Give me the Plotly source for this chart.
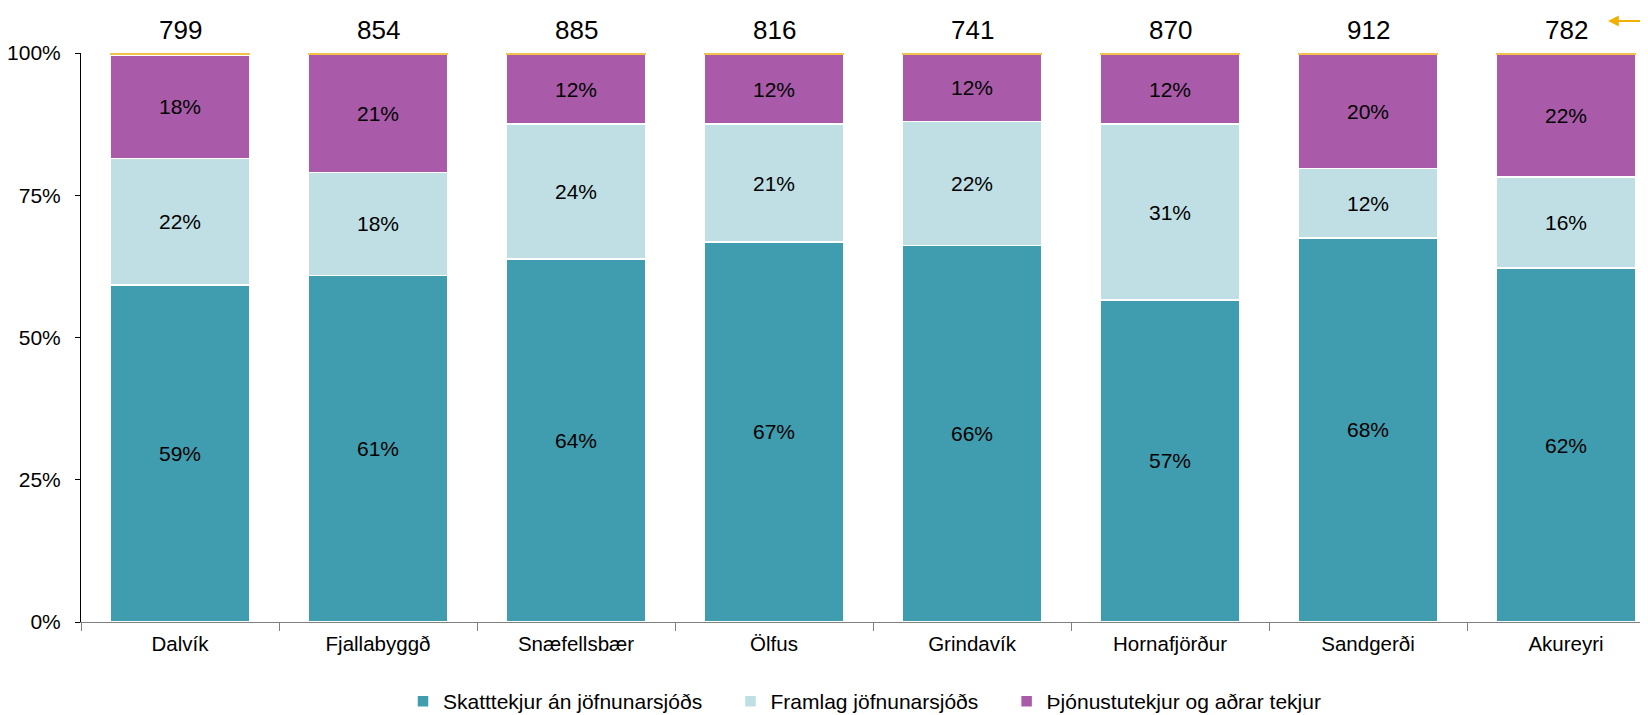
import plotly.graph_objects as go

categories = ["Dalvík", "Fjallabyggð", "Snæfellsbær", "Ölfus", "Grindavík", "Hornafjörður", "Sandgerði", "Akureyri"]
skatt = [59.2, 60.9, 63.8, 66.8, 66.2, 56.6, 67.5, 62.2]
framlag = [22.3, 18.1, 23.7, 20.7, 21.8, 30.9, 12.2, 16.0]
thjonusta = [18.1, 20.7, 12.2, 12.2, 11.7, 12.2, 20.0, 21.5]
annad = [0.4, 0.3, 0.3, 0.3, 0.3, 0.3, 0.3, 0.3]
totals = [799, 854, 885, 816, 741, 870, 912, 782]
series_names = ["Skatttekjur án jöfnunarsjóðs", "Framlag jöfnunarsjóðs", "Þjónustutekjur og aðrar tekjur"]

FONT = "Arial, Liberation Sans, sans-serif"
colors = ["#409DAF", "#BFDFE4", "#A95BAA", "#F2C14E"]
pad = "\u00a0" * 4

fig = go.Figure()
for i, (vals, name, col) in enumerate(zip([skatt, framlag, thjonusta], series_names, colors)):
    fig.add_trace(go.Bar(
        x=categories, y=vals, name=name + (pad if i < 2 else ""),
        marker=dict(color=col, line=dict(color="white", width=1.5)),
        width=0.707,
        texttemplate="%{y:.0f}%", textposition="inside", insidetextanchor="middle",
        textfont=dict(family=FONT, size=21, color="black"),
        textangle=0, constraintext="none",
        hoverinfo="skip",
    ))
fig.add_trace(go.Bar(
    x=categories, y=annad, name="", showlegend=False,
    marker=dict(color=colors[3], line=dict(width=0)), width=0.707, hoverinfo="skip",
))

annotations = []
for c, t in zip(categories, totals):
    annotations.append(dict(x=c, y=100, xref="x", yref="y", text=str(t), showarrow=False,
                            yanchor="bottom", yshift=6, font=dict(family=FONT, size=26, color="black")))
annotations.append(dict(xref="paper", yref="paper", x=0.9745, y=1.0562, ax=42, ay=0, text="",
                        showarrow=True, arrowhead=2, arrowsize=1.2, arrowwidth=1.8, arrowcolor="#F0B000"))

# page body has an 8px margin, so the figure is sized to fit the 1648x715 window
fig.update_layout(
    barmode="stack",
    width=1640, height=707,
    margin=dict(l=73, r=0, t=45, b=93, autoexpand=False),
    plot_bgcolor="white", paper_bgcolor="white",
    font=dict(family=FONT, size=20, color="black"),
    annotations=annotations,
    showlegend=True,
    legend=dict(orientation="h", x=0.50, xanchor="center", y=-0.1397, yanchor="middle",
                font=dict(family=FONT, size=21, color="black"), traceorder="normal",
                itemwidth=30, tracegroupgap=0),
    bargap=0.29,
)
fig.update_xaxes(range=[-0.5, 7.414], showline=True, linecolor="#808080", linewidth=1,
                 ticks="outside", tickson="boundaries", ticklen=8, tickcolor="#808080",
                 ticklabelstandoff=3,
                 tickfont=dict(family=FONT, size=20.5, color="black"), showgrid=False)
fig.update_yaxes(range=[0, 100], tickvals=[0, 25, 50, 75, 100], ticktext=["0%", "25%", "50%", "75%", "100%"],
                 showline=True, linecolor="black", linewidth=1, ticks="outside", ticklen=5, tickcolor="black",
                 ticklabelstandoff=10,
                 tickfont=dict(family=FONT, size=21, color="black"), showgrid=False, zeroline=False)

fig.write_html("out.html")
